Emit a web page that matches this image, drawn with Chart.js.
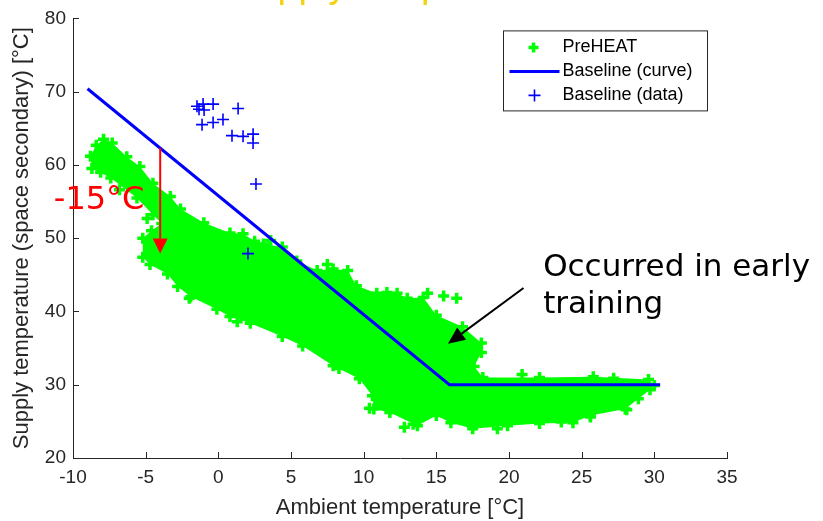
<!DOCTYPE html>
<html lang="en">
<head>
<meta charset="UTF-8">
<title>Supply temperature - PreHEAT vs baseline</title>
<script src="https://cdn.jsdelivr.net/npm/chart.js@4"></script>
<style>
  html, body { margin: 0; padding: 0; background: #fff; }
  #wrap { width: 823px; height: 521px; }
</style>
</head>
<body>
<div id="wrap"><canvas id="chart" width="823" height="521"></canvas></div>
<script>
// axis ranges
const xTicks = [-10, -5, 0, 5, 10, 15, 20, 25, 30, 35];
const yTicks = [20, 30, 40, 50, 60, 70, 80];

// Baseline curve (heating curve)
const curveX = [-9.0, 15.9, 30.4];
const curveY = [70.4, 30.0, 30.0];

// Baseline data points
const baseDataX = [-1.47, -1.33, -1.05, -0.98, -0.36, 1.36, -1.12, -0.36, 0.32, 0.94, 1.70, 2.39, 2.39, 2.59, 2.04];
const baseDataY = [68.0, 67.6, 68.3, 67.5, 68.3, 67.7, 65.5, 65.8, 66.2, 64.0, 63.9, 64.2, 63.0, 57.4, 47.9];

// PreHEAT cloud: upper and lower edge of the point cloud (left to right)
const upperX = [-8.8, -8.4, -7.9, -7.3, -6.3, -5.4, -4.5, -3.3, -2.6, -1.0, 0.8, 1.7, 2.5, 3.1, 4.4, 5.4, 6.8, 7.9, 8.9, 9.5, 10.9, 12.3, 13.0, 14.1, 15.0, 16.8, 18.1, 18.1, 17.6, 18.2, 22.1, 25.8, 29.6, 30.0];
const upperY = [61.2, 62.7, 63.5, 63.0, 61.1, 59.8, 57.5, 55.7, 54.0, 52.1, 50.7, 50.6, 49.6, 49.2, 48.8, 46.9, 45.6, 45.8, 45.6, 43.5, 42.5, 42.5, 41.8, 41.9, 39.5, 37.9, 35.7, 34.4, 32.5, 31.0, 31.0, 31.1, 30.7, 29.9];
const lowerX = [-8.7, -7.4, -5.6, -4.5, -3.9, -4.6, -5.2, -5.2, -4.7, -3.5, -2.8, -1.9, -0.1, 0.8, 2.2, 4.4, 5.8, 7.9, 9.7, 10.6, 10.7, 11.8, 13.7, 15.0, 16.0, 17.5, 19.9, 22.1, 24.4, 25.6, 28.0, 28.9, 29.7];
const lowerY = [59.5, 58.2, 55.5, 53.2, 52.0, 51.0, 50.0, 47.4, 46.4, 45.1, 43.4, 42.0, 40.3, 39.3, 38.4, 36.6, 35.3, 32.6, 30.8, 28.5, 26.7, 26.2, 24.4, 25.8, 24.8, 24.0, 24.4, 24.7, 24.8, 25.8, 26.7, 28.1, 29.3];
// loose PreHEAT points around the dense part
const looseX = [14.4, 15.5, 16.4, -4.9, 7.5, 11.6, 10.4, 13.4, 8.3, 25.6, 28.1, 20.9, 3.6, -6.8, -2.0, 1.3, 12.8, 16.9, 19.2, 23.6, 27.2, 6.4, -8.1];
const looseY = [42.5, 42.1, 41.8, 52.7, 46.4, 42.6, 26.8, 24.6, 32.2, 25.6, 26.6, 31.4, 49.7, 56.6, 41.8, 38.6, 24.2, 36.7, 24.0, 24.9, 30.9, 35.6, 59.0];

// annotations (data coordinates)
const redArrowX = [-4.0, -4.0];
const redArrowY = [62.3, 47.9];
const blackArrowX = [21.0, 15.8];
const blackArrowY = [43.2, 35.6];

const green = '#00ff00';
const blue = '#0000ff';
const axisColor = '#262626';
const font = "'Liberation Sans', Arial, sans-serif";

const pts = (xs, ys) => xs.map((x, i) => ({x: x, y: ys[i]}));

const upperPts = pts(upperX, upperY);
const lowerPts = pts(lowerX, lowerY);
const cloudShape = upperPts.concat(lowerPts.slice().reverse());
const preheatPts = upperPts.concat(lowerPts, pts(looseX, looseY));

// ticks that point into the plot, like the original
const inwardTicks = {
  id: 'inwardTicks',
  beforeDatasetsDraw(chart) {
    const {ctx, chartArea, scales} = chart;
    ctx.save();
    ctx.strokeStyle = axisColor;
    ctx.lineWidth = 1;
    ctx.beginPath();
    xTicks.forEach(v => {
      const px = Math.round(scales.x.getPixelForValue(v)) + 0.5;
      ctx.moveTo(px, chartArea.bottom);
      ctx.lineTo(px, chartArea.bottom - 6);
    });
    yTicks.forEach(v => {
      const py = Math.round(scales.y.getPixelForValue(v)) + 0.5;
      ctx.moveTo(chartArea.left, py);
      ctx.lineTo(chartArea.left + 6, py);
    });
    ctx.stroke();
    ctx.restore();
  }
};

function drawArrow(ctx, x0, y0, x1, y1, color, headLen, headW, lw) {
  const a = Math.atan2(y1 - y0, x1 - x0);
  const bx = x1 - headLen * Math.cos(a), by = y1 - headLen * Math.sin(a);
  ctx.save();
  ctx.strokeStyle = color;
  ctx.fillStyle = color;
  ctx.lineWidth = lw;
  ctx.beginPath();
  ctx.moveTo(x0, y0);
  ctx.lineTo(bx, by);
  ctx.stroke();
  ctx.beginPath();
  ctx.moveTo(x1, y1);
  ctx.lineTo(bx + headW / 2 * Math.sin(a), by - headW / 2 * Math.cos(a));
  ctx.lineTo(bx - headW / 2 * Math.sin(a), by + headW / 2 * Math.cos(a));
  ctx.closePath();
  ctx.fill();
  ctx.restore();
}

const extras = {
  id: 'extras',
  afterDraw(chart) {
    const {ctx, chartArea, scales} = chart;
    const X = v => scales.x.getPixelForValue(v);
    const Y = v => scales.y.getPixelForValue(v);

    // cut-off slide title at the very top
    ctx.save();
    ctx.fillStyle = '#f5d20f';
    ctx.font = "38px " + font;
    ctx.textBaseline = 'alphabetic';
    ctx.fillText('Supply temperature', 231, -3);
    ctx.restore();

    // red arrow + label
    drawArrow(ctx, X(redArrowX[0]), Y(redArrowY[0]), X(redArrowX[1]), Y(redArrowY[1]), '#ff0000', 15, 15, 2);
    ctx.save();
    ctx.fillStyle = '#ff0000';
    ctx.font = "32px 'DejaVu Sans', sans-serif";
    ctx.textAlign = 'center';
    ctx.fillText('-15°C', X(-8.2), Y(54.0));
    ctx.restore();

    // black arrow + label
    drawArrow(ctx, X(blackArrowX[0]), Y(blackArrowY[0]), X(blackArrowX[1]), Y(blackArrowY[1]), '#000000', 17, 15, 2);
    ctx.save();
    ctx.fillStyle = '#000000';
    ctx.font = "31px 'DejaVu Sans', sans-serif";
    ctx.fillText('Occurred in early', X(22.35), Y(44.8));
    ctx.fillText('training', X(22.35), Y(39.8));
    ctx.restore();

    // legend box in the upper right
    const lx = chartArea.right - 223.5, ly = chartArea.top + 12.5;
    ctx.save();
    ctx.fillStyle = '#fff';
    ctx.strokeStyle = axisColor;
    ctx.lineWidth = 1;
    ctx.fillRect(lx, ly, 204, 80);
    ctx.strokeRect(lx, ly, 204, 80);
    ctx.font = "18px " + font;
    ctx.fillStyle = '#000';
    ctx.textBaseline = 'middle';
    const rows = [ly + 16.5, ly + 40.5, ly + 64.5];
    const labels = chart.data.datasets.filter(d => d.label).map(d => d.label);
    // PreHEAT marker
    ctx.strokeStyle = green; ctx.lineWidth = 3.5;
    ctx.beginPath();
    ctx.moveTo(lx + 30, rows[0] - 5); ctx.lineTo(lx + 30, rows[0] + 5);
    ctx.moveTo(lx + 25, rows[0]); ctx.lineTo(lx + 35, rows[0]);
    ctx.stroke();
    // curve sample
    ctx.strokeStyle = blue; ctx.lineWidth = 3;
    ctx.beginPath();
    ctx.moveTo(lx + 6, rows[1]); ctx.lineTo(lx + 56, rows[1]);
    ctx.stroke();
    // data marker
    ctx.lineWidth = 1.6;
    ctx.beginPath();
    ctx.moveTo(lx + 31, rows[2] - 6); ctx.lineTo(lx + 31, rows[2] + 6);
    ctx.moveTo(lx + 25, rows[2]); ctx.lineTo(lx + 37, rows[2]);
    ctx.stroke();
    labels.forEach((t, i) => ctx.fillText(t, lx + 59, rows[i]));
    ctx.restore();
  }
};

new Chart(document.getElementById('chart'), {
  type: 'line',
  data: {
    datasets: [
      {
        label: 'PreHEAT',
        data: preheatPts,
        showLine: false,
        pointStyle: 'cross',
        pointRadius: 5.5,
        pointBorderWidth: 3.5,
        pointBorderColor: green,
        order: 2
      },
      {
        label: 'Baseline (curve)',
        data: pts(curveX, curveY),
        borderColor: blue,
        borderWidth: 3,
        pointRadius: 0,
        fill: false,
        tension: 0,
        order: 1
      },
      {
        label: 'Baseline (data)',
        data: pts(baseDataX, baseDataY),
        showLine: false,
        pointStyle: 'cross',
        pointRadius: 6,
        pointBorderWidth: 1.6,
        pointBorderColor: blue,
        order: 0
      },
      {
        // dense part of the PreHEAT cloud
        data: cloudShape,
        borderWidth: 0,
        borderColor: green,
        backgroundColor: green,
        pointRadius: 0,
        fill: 'shape',
        tension: 0,
        order: 3
      }
    ]
  },
  options: {
    responsive: false,
    animation: false,
    devicePixelRatio: 1,
    layout: { padding: { top: 15, right: 96, left: 0, bottom: 0 } },
    plugins: {
      legend: { display: false },
      tooltip: { enabled: false }
    },
    scales: {
      x: {
        type: 'linear',
        min: -10,
        max: 35,
        afterBuildTicks: s => { s.ticks = xTicks.map(v => ({value: v})); },
        afterFit: s => { s.height = 63; },
        grid: { display: false, drawTicks: false },
        border: { display: true, color: axisColor, width: 1 },
        ticks: { color: axisColor, font: { family: font, size: 19 }, padding: 8 },
        title: {
          display: true,
          text: 'Ambient temperature [°C]',
          color: axisColor,
          font: { family: font, size: 22 },
          padding: { top: 0, bottom: 0 }
        }
      },
      y: {
        min: 20,
        max: 80,
        afterBuildTicks: s => { s.ticks = yTicks.map(v => ({value: v})); },
        afterFit: s => { s.width = 73; },
        grid: { display: false, drawTicks: false },
        border: { display: true, color: axisColor, width: 1 },
        ticks: { color: axisColor, font: { family: font, size: 19 }, padding: 7 },
        title: {
          display: true,
          text: 'Supply temperature (space secondary) [°C]',
          color: axisColor,
          font: { family: font, size: 22 },
          padding: { top: 9, bottom: 0 }
        }
      }
    }
  },
  plugins: [inwardTicks, extras]
});
</script>
</body>
</html>
